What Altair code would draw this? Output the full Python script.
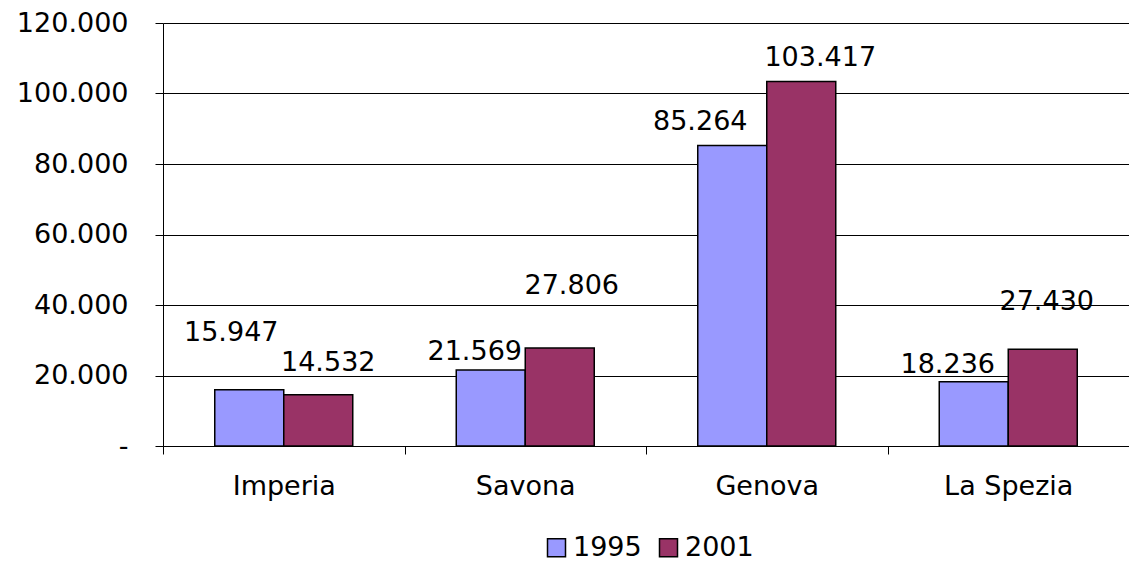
import altair as alt
import pandas as pd

provinces = ["Imperia", "Savona", "Genova", "La Spezia"]
years = ["1995", "2001"]
values_1995 = [15947, 21569, 85264, 18236]
values_2001 = [14532, 27806, 103417, 27430]
colors = ["#9999FF", "#993366"]
y_ticks = [0, 20000, 40000, 60000, 80000, 100000, 120000]

rows = []
for p, a, b in zip(provinces, values_1995, values_2001):
    rows.append({"Provincia": p, "Anno": years[0], "Valore": a})
    rows.append({"Provincia": p, "Anno": years[1], "Valore": b})
df = pd.DataFrame(rows)
df["Etichetta"] = df["Valore"].map(lambda v: f"{v:,}".replace(",", "."))

# style: nudges (dx, dy in px) of each value label from its bar's top centre
label_nudge = {
    ("Imperia", "1995"): (-18, -57),
    ("Imperia", "2001"): (10, -32),
    ("Savona", "1995"): (-16, -18),
    ("Savona", "2001"): (12, -62),
    ("Genova", "1995"): (-32, -23),
    ("Genova", "2001"): (19, -23),
    ("La Spezia", "1995"): (-26, -17),
    ("La Spezia", "2001"): (4, -47),
}

FONT = "DejaVu Sans"
FS = 27

x = alt.X(
    "Provincia:N",
    sort=provinces,
    scale=alt.Scale(paddingInner=0, paddingOuter=0),
    axis=alt.Axis(
        title=None, labelAngle=0, tickBand="extent", tickSize=8,
        labelPadding=19, labelFontSize=FS, labelFont=FONT, labelColor="black",
        domainColor="black", tickColor="black", domainWidth=1, tickWidth=1,
        grid=False,
    ),
)
xoff = alt.XOffset("Anno:N", sort=years,
                   scale=alt.Scale(paddingInner=0, paddingOuter=0.75))
y = alt.Y(
    "Valore:Q",
    scale=alt.Scale(domain=[0, 120000], nice=False, zero=True),
    axis=alt.Axis(
        title=None, values=y_ticks, tickSize=8, labelPadding=27,
        labelFontSize=FS, labelFont=FONT, labelColor="black",
        labelExpr="datum.value == 0 ? '-' : replace(format(datum.value, ','), ',', '.')",
        domainColor="black", tickColor="black", domainWidth=1, tickWidth=1,
        grid=True, gridColor="black", gridOpacity=1, gridWidth=1,
    ),
)
color = alt.Color(
    "Anno:N", sort=years,
    scale=alt.Scale(domain=years, range=colors),
    legend=alt.Legend(
        title=None, orient="none", direction="horizontal",
        legendX=380, legendY=511,
        symbolType="square", symbolSize=324, symbolStrokeColor="black",
        symbolStrokeWidth=1.5, symbolOpacity=1,
        labelFontSize=FS, labelFont=FONT, labelColor="black",
        labelOffset=3, columnPadding=13,
    ),
)

base = alt.Chart(df)
bars = base.mark_bar(stroke="black", strokeWidth=1.5, opacity=1).encode(
    x=x, xOffset=xoff, y=y, fill=color
)

label_layers = []
for (prov, yr), (ddx, ddy) in label_nudge.items():
    label_layers.append(
        base.transform_filter(
            (alt.datum.Provincia == prov) & (alt.datum.Anno == yr)
        ).mark_text(
            baseline="middle", align="center", dx=ddx, dy=ddy,
            fontSize=FS, font=FONT, color="black",
        ).encode(x=x, xOffset=xoff, y=y, text="Etichetta:N")
    )

chart = (
    alt.layer(bars, *label_layers)
    .properties(
        width=966, height=423,
        autosize=alt.AutoSizeParams(type="none"),
        padding={"left": 155, "top": 15, "right": 0, "bottom": 117},
        background="white",
    )
    .configure_view(stroke=None)
)

chart.save("out.html", embed_options={"renderer": "svg", "actions": False})
